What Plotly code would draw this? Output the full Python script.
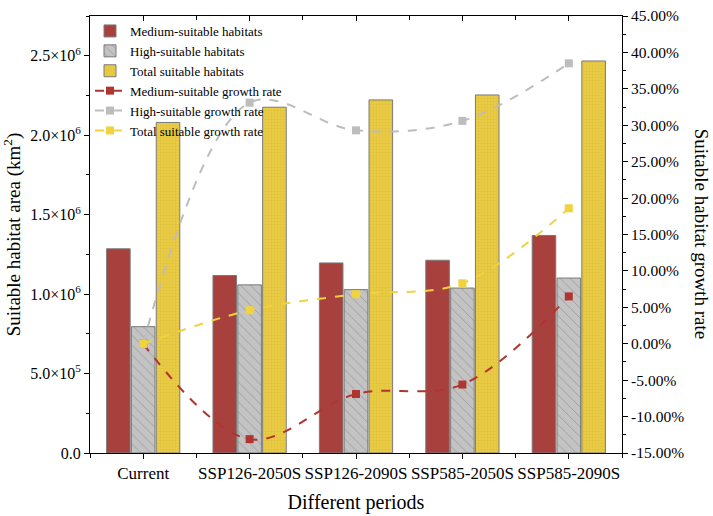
import plotly.graph_objects as go

categories = ["Current", "SSP126-2050S", "SSP126-2090S", "SSP585-2050S", "SSP585-2090S"]
medium_area = [1.285e6, 1.117e6, 1.196e6, 1.213e6, 1.369e6]
high_area = [0.795e6, 1.058e6, 1.028e6, 1.038e6, 1.101e6]
total_area = [2.080e6, 2.176e6, 2.222e6, 2.253e6, 2.467e6]
medium_rate = [0.0, -13.1, -6.9, -5.6, 6.5]
high_rate = [0.0, 33.1, 29.3, 30.6, 38.5]
total_rate = [0.0, 4.6, 6.8, 8.3, 18.6]
left_ticks = [0, 0.5e6, 1.0e6, 1.5e6, 2.0e6, 2.5e6]
left_ticktext = ["0.0", "5.0×10<sup>5</sup>", "1.0×10<sup>6</sup>", "1.5×10<sup>6</sup>",
                 "2.0×10<sup>6</sup>", "2.5×10<sup>6</sup>"]
right_ticks = list(range(-15, 50, 5))
right_ticktext = [f"{v:.2f}%" for v in right_ticks]

x = list(range(len(categories)))
FONT = "Liberation Serif, Times New Roman, serif"
outline = dict(color="#7a7a7a", width=1)
bounds = [-0.5, 0.5, 1.5, 2.5, 3.5, 4.5]

fig = go.Figure()
fig.add_trace(go.Bar(x=x, y=medium_area, name="Medium-suitable habitats",
                     marker=dict(color="#A8413D", line=outline)))
fig.add_trace(go.Bar(x=x, y=high_area, name="High-suitable habitats",
                     marker=dict(color="#C3C3C3", line=outline,
                                 pattern=dict(shape="\\", bgcolor="#C3C3C3", fgcolor="#6e6e6e",
                                              size=7, solidity=0.12))))
fig.add_trace(go.Bar(x=x, y=total_area, name="Total suitable habitats",
                     marker=dict(color="#E9CB45", line=outline,
                                 pattern=dict(shape="+", bgcolor="#E9CB45", fgcolor="#D7B532",
                                              size=3, solidity=0.3))))

def line(y, name, color):
    fig.add_trace(go.Scatter(x=x, y=y, name=name, yaxis="y2", mode="lines+markers",
                             line=dict(color=color, width=2, dash="dash", shape="spline", smoothing=1),
                             marker=dict(symbol="square", size=8, color=color)))

line(medium_rate, "Medium-suitable growth rate", "#B03530")
line(high_rate, "High-suitable growth rate", "#BDBDBD")
line(total_rate, "Total suitable growth rate", "#F0D33E")

# invisible trace to carry the top mirrored axis
fig.add_trace(go.Scatter(x=[x[0]], y=[0], xaxis="x2", mode="markers",
                         marker=dict(opacity=0), showlegend=False, hoverinfo="skip"))

fig.update_layout(
    width=713, height=516,
    margin=dict(l=90, r=91, t=7, b=63),
    plot_bgcolor="white", paper_bgcolor="white",
    barmode="group", bargap=0.3, bargroupgap=0.05,
    font=dict(family=FONT, color="black", size=15),
    showlegend=True,
    legend=dict(x=0.0, y=1.0, xanchor="left", yanchor="top",
                font=dict(family=FONT, size=13), bgcolor="rgba(0,0,0,0)",
                tracegroupgap=0, itemwidth=30),
    xaxis=dict(range=[-0.5, 4.5], tickvals=x, ticktext=categories,
               showline=True, linecolor="black", linewidth=1,
               ticks="outside", ticklen=5, tickcolor="black",
               minor=dict(tickvals=bounds, ticks="outside", ticklen=4, tickcolor="black"),
               showgrid=False, zeroline=False,
               title=dict(text="Different periods", font=dict(size=20), standoff=12),
               tickfont=dict(size=17)),
    xaxis2=dict(overlaying="x", side="top", range=[-0.5, 4.5], tickvals=x,
                showticklabels=False, showline=True, linecolor="black", linewidth=1,
                ticks="inside", ticklen=5, tickcolor="black",
                minor=dict(tickvals=bounds, ticks="inside", ticklen=4, tickcolor="black"),
                showgrid=False, zeroline=False),
    yaxis=dict(range=[0, 2.75e6], tickvals=left_ticks, ticktext=left_ticktext,
               showline=True, linecolor="black", linewidth=1,
               ticks="outside", ticklen=5, tickcolor="black",
               minor=dict(tickvals=[0.25e6, 0.75e6, 1.25e6, 1.75e6, 2.25e6, 2.75e6],
                          ticks="outside", ticklen=3, tickcolor="black"),
               showgrid=False, zeroline=False,
               title=dict(text="Suitable habitat area (km<sup>2</sup>)", font=dict(size=19), standoff=6),
               tickfont=dict(size=16)),
    yaxis2=dict(overlaying="y", side="right", range=[-15, 45], tickvals=right_ticks,
                ticktext=right_ticktext, showline=True, linecolor="black", linewidth=1,
                ticks="outside", ticklen=5, tickcolor="black", ticklabeloverflow="allow",
                minor=dict(tickvals=[v + 2.5 for v in right_ticks[:-1]], ticks="outside", ticklen=3,
                           tickcolor="black"),
                showgrid=False, zeroline=False, tickfont=dict(size=15.5)),
    annotations=[dict(text="Suitable habitat growth rate", textangle=90, xref="paper", yref="paper",
                      x=1.15, y=0.5, xanchor="center", yanchor="middle", showarrow=False,
                      font=dict(family=FONT, size=19))],
)

fig.write_html("out.html")
